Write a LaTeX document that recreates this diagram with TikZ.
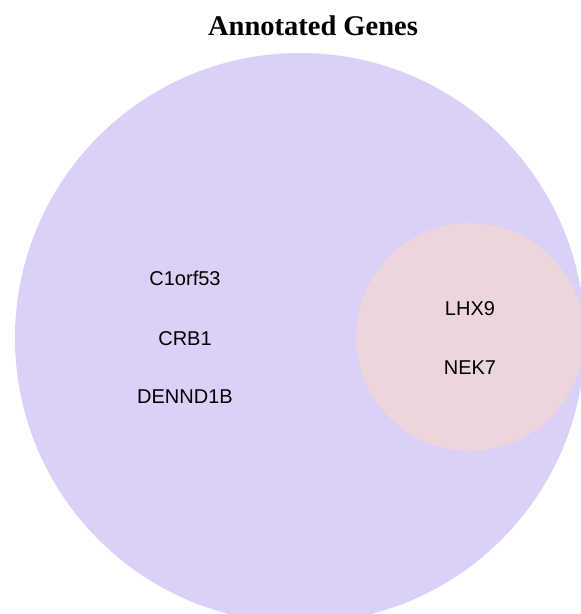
\documentclass[tikz,border=0pt]{standalone}
\usepackage{fontspec}
\setmainfont{Liberation Serif}
\newfontfamily\labelfont{Liberation Sans}
\definecolor{setA}{RGB}{218,208,248}
\definecolor{setB}{RGB}{236,214,220}
\begin{document}
\begin{tikzpicture}[x=1pt,y=-1pt,
  gene/.style={font=\labelfont\fontsize{20}{22}\selectfont, text=black, anchor=base, inner sep=0pt},
  heading/.style={font=\bfseries\fontsize{28.5}{32}\selectfont, anchor=base, inner sep=0pt}]
  \useasboundingbox (0,0) rectangle (581,614);
  \begin{scope}
    \clip (0,0) rectangle (581,614);
    \fill[setA] (300,338) circle[radius=285];
    \fill[setB] (470,337) circle[radius=114];
  \end{scope}
  \node[heading] (title) at (313,35) {Annotated Genes};
  \node[gene] (g1) at (185,285) {C1orf53};
  \node[gene] (g2) at (185,345) {CRB1};
  \node[gene] (g3) at (185,403) {DENND1B};
  \node[gene] (g4) at (470,315) {LHX9};
  \node[gene] (g5) at (470,374) {NEK7};
\end{tikzpicture}
\end{document}
